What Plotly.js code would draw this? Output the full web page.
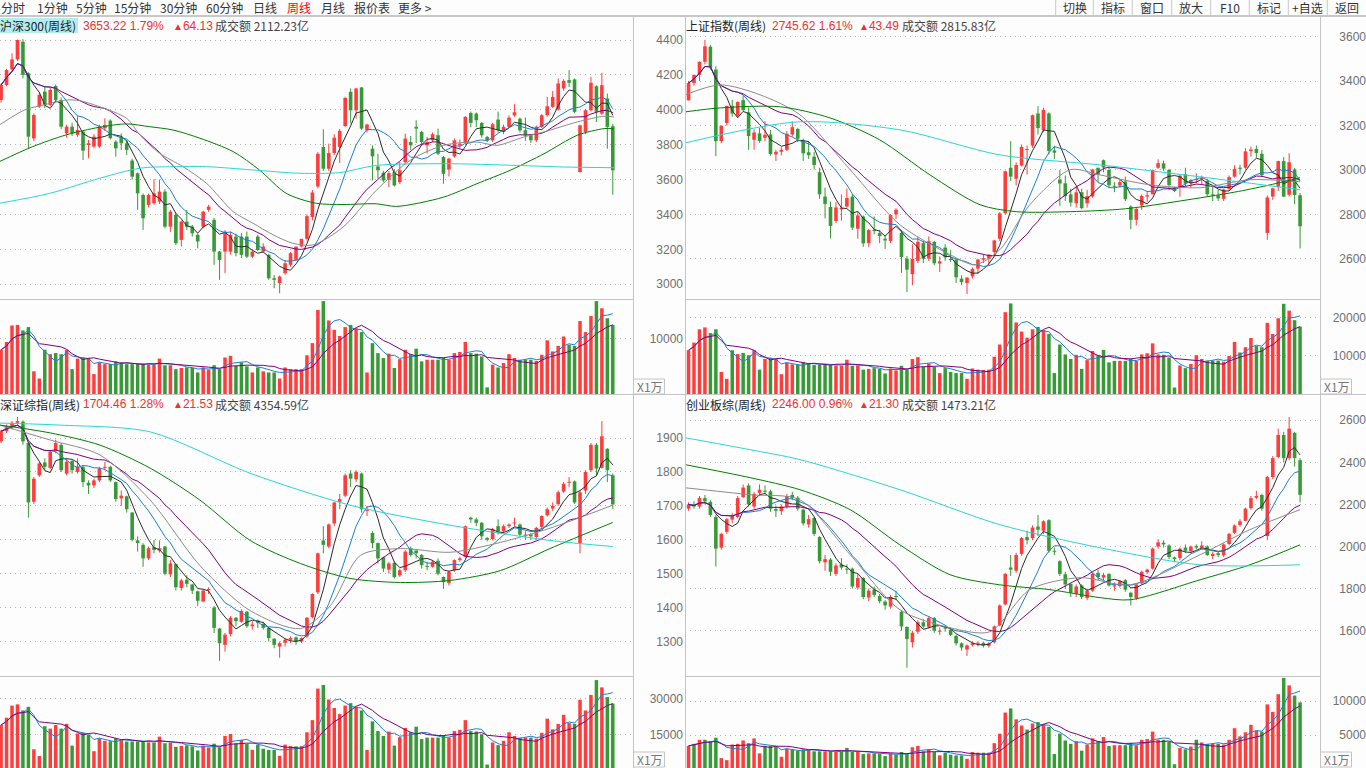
<!DOCTYPE html>
<html><head><meta charset="utf-8">
<script src="https://cdn.plot.ly/plotly-3.0.1.min.js"></script>
<style>html,body{margin:0;padding:0;background:#fdfdfd;overflow:hidden}#chart{width:1366px;height:768px}</style>
</head><body><div id="chart"></div>
<script>
// ---------------- DATA ----------------
const toolbarLeft = ['分时','1分钟','5分钟','15分钟','30分钟','60分钟','日线','周线','月线','报价表','更多 >'];
const toolbarRight = ['切换','指标','窗口','放大','F10','标记','+自选','返回'];
const hdrName = ['沪深300(周线)','上证指数(周线)','深证综指(周线)','创业板综(周线)'];
const hdrPrice = ['3653.22 1.79%','2745.62 1.61%','1704.46 1.28%','2246.00 0.96%'];
const hdrChange = ['64.13','43.49','21.53','21.30'];
const hdrAmount = ['成交额 2112.23亿','成交额 2815.83亿','成交额 4354.59亿','成交额 1473.21亿'];

// 沪深300 weekly
const hsOpen = [4056,4142,4232,4289,4390,4209,3836,4018,4104,4028,
 4136,4056,3865,3903,3856,3875,3798,3789,3789,3894,
 3938,3817,3846,3808,3709,3636,3512,3455,3464,3474,
 3531,3330,3397,3254,3359,3330,3283,3330,3426,3369,
 3187,3187,3187,3273,3273,3273,3158,3273,3187,3168,
 3034,3006,3063,3111,3140,3216,3260,3385,3560,3787,
 3662,3752,3787,3907,4103,3997,4128,3882,3777,3675,
 3639,3599,3643,3585,3700,3815,3902,3873,3796,3825,
 3854,3729,3657,3733,3796,3815,3982,3978,3925,3844,
 3825,3944,3873,3902,3968,3949,3883,3854,3825,3902,
 3969,4017,4001,4122,4170,4174,3643,3873,3997,4135,
 3978,4065,3906];
const hsHigh = [4150,4235,4324,4403,4405,4215,3980,4100,4130,4125,
 4145,4070,3915,3925,3965,3880,3827,3860,3915,3951,
 3945,3825,3865,3827,3720,3640,3520,3520,3602,3600,
 3545,3425,3410,3365,3426,3340,3290,3420,3455,3380,
 3190,3310,3300,3290,3292,3302,3200,3283,3235,3175,
 3053,3050,3139,3185,3215,3260,3400,3540,3757,3888,
 3806,3860,3890,4075,4122,4125,4130,3920,3796,3748,
 3650,3650,3660,3700,3863,3850,3940,3880,3845,3870,
 3892,3735,3725,3835,3830,3965,3990,3985,3930,3850,
 3925,3988,3915,3968,4032,3955,3955,3860,3910,3975,
 4074,4108,4180,4175,4227,4180,3915,4005,4189,4140,
 4212,4093,3920];
const hsLow = [4040,4135,4220,4280,4180,3779,3820,4010,4010,4020,
 4040,3890,3840,3850,3845,3712,3722,3780,3780,3880,
 3830,3731,3770,3741,3600,3426,3311,3440,3455,3460,
 3320,3300,3225,3216,3311,3273,3206,3320,3415,3111,
 3025,3063,3170,3160,3150,3150,3150,3190,3180,3025,
 2977,2948,3055,3100,3135,3210,3250,3365,3550,3650,
 3650,3740,3695,3900,3921,3950,3885,3870,3595,3605,
 3585,3557,3560,3575,3690,3770,3810,3800,3750,3815,
 3740,3576,3618,3725,3780,3810,3900,3900,3840,3815,
 3815,3870,3860,3895,3960,3870,3822,3810,3815,3895,
 3960,4010,3995,4110,4130,3980,3640,3860,3990,3930,
 3970,3777,3513];
const hsClose = [4142,4228,4289,4400,4200,3846,3970,4085,4028,4114,
 4056,3903,3903,3865,3884,3766,3808,3846,3903,3913,
 3837,3779,3808,3770,3617,3521,3378,3512,3521,3531,
 3330,3416,3235,3359,3330,3292,3245,3416,3445,3187,
 3139,3302,3283,3178,3168,3158,3187,3196,3216,3034,
 3025,3044,3120,3178,3216,3260,3390,3526,3748,3662,
 3752,3840,3879,4068,3997,4122,3892,3915,3733,3653,
 3595,3637,3566,3653,3835,3796,3892,3815,3815,3860,
 3748,3633,3720,3825,3806,3959,3925,3940,3854,3825,
 3917,3883,3902,3955,3986,3882,3854,3825,3902,3969,
 4020,4074,4151,4166,4155,3988,3911,3997,4155,3988,
 4141,3902,3653];
const hsVol = [8000,9400,12400,12500,11500,12100,4100,2800,8000,7200,
 7400,7200,8000,4500,6400,6600,6500,3600,5700,5400,
 5400,5900,5700,5400,5400,5400,5400,5300,5300,6400,
 5200,5200,4500,4700,4800,4700,3900,4800,4400,5200,
 4500,6600,6900,5100,5700,5000,3900,4800,4100,3900,
 3900,2800,4800,4500,4500,4500,7000,9200,15200,16800,
 13300,11600,10500,12100,12500,11900,11200,3900,9200,7400,
 6500,7300,4700,6300,8000,7200,8200,5900,6200,6200,
 6200,6600,6200,7400,7600,9400,7400,7300,6800,1200,
 5300,4800,5600,7200,6500,6200,6200,6200,6000,7100,
 9700,7700,8700,10400,8900,8700,13200,11200,14100,16800,
 15500,13700,12500];
const hsMA30x = [-0.3,4.3,7.7,11.9,14.4,18,23,25.4,29,33.3,37.6,42.5,46.1,49.8,53.4,57.1,62.6,68.7,74.9,81,87.1,90.8,95.7,99.4,105.5,110.4,112.2];
const hsMA30y = [3913,3999,4027,4056,4052,4018,3951,3856,3751,3674,3579,3416,3350,3283,3235,3225,3327,3538,3710,3796,3815,3796,3844,3873,3930,3963,3959];
const hsMA60x = [-0.3,5.8,11.9,18,23,27.2,31.5,36.4,42.5,47.3,52.2,57.7,62.6,68.7,72.4,81,87.1,93.2,99.4,105.5,110.4,112.2];
const hsMA60y = [3703,3789,3856,3900,3919,3903,3884,3837,3760,3655,3521,3464,3457,3461,3446,3499,3576,3653,3748,3854,3892,3892];
const hsMA120x = [-0.3,8.9,18,25.4,31.5,37.6,46.1,54.7,62,68.7,81,94.4,103,112.2];
const hsMA120y = [3464,3521,3607,3665,3674,3674,3655,3636,3640,3681,3691,3681,3672,3668];

// 上证指数 weekly
const shOpen = [3314,3392,3429,3488,3556,3453,3130,3212,3289,3245,
 3315,3260,3136,3165,3145,3160,3070,3082,3091,3160,
 3185,3130,3080,3060,2990,2880,2833,2770,2822,2835,
 2880,2735,2790,2670,2730,2715,2690,2680,2800,2716,
 2600,2530,2590,2670,2600,2675,2578,2650,2595,2595,
 2510,2490,2520,2555,2595,2600,2630,2690,2805,3010,
 2960,3020,3090,3110,3255,3180,3255,3088,2957,2940,
 2890,2850,2900,2850,2880,3010,3044,3000,2925,2930,
 2948,2835,2775,2840,2880,2890,3010,3030,3000,2920,
 2920,2980,2940,2955,2960,2950,2890,2885,2870,2915,
 2970,3010,3010,3085,3095,3073,2716,2880,2925,3040,
 2888,3002,2886];
const shHigh = [3402,3430,3490,3587,3564,3468,3201,3290,3316,3310,
 3336,3282,3183,3190,3220,3180,3091,3103,3176,3219,
 3190,3141,3130,3082,3010,2920,2857,2855,2890,2916,
 2891,2810,2795,2734,2790,2730,2705,2800,2827,2730,
 2612,2665,2700,2680,2700,2680,2610,2665,2640,2600,
 2525,2515,2560,2600,2620,2620,2685,2810,2997,3130,
 3034,3115,3110,3250,3288,3281,3260,3110,3000,2975,
 2915,2925,2915,2910,3005,3010,3047,3015,2945,2955,
 2970,2840,2830,2890,2905,3002,3048,3042,3005,2925,
 2980,3010,2960,2985,2975,2960,2925,2910,2915,2975,
 3021,3023,3098,3105,3110,3090,2885,2920,3042,3058,
 3075,3009,2896];
const shLow = [3314,3380,3402,3476,3452,3062,3120,3200,3240,3235,
 3265,3091,3091,3123,3130,3064,3041,3066,3085,3150,
 3125,3041,3050,3002,2870,2782,2691,2760,2771,2830,
 2729,2690,2653,2653,2710,2670,2644,2670,2780,2536,
 2449,2480,2580,2580,2590,2570,2540,2590,2585,2490,
 2480,2440,2510,2530,2580,2570,2610,2680,2800,2950,
 2930,3015,2980,3100,3160,3170,3070,3050,2838,2860,
 2835,2830,2822,2830,2875,2945,2990,2920,2900,2920,
 2860,2733,2750,2820,2855,2890,3005,2995,2910,2900,
 2880,2925,2920,2940,2935,2880,2860,2860,2860,2905,
 2965,2980,3005,3060,3055,2970,2685,2865,2905,2878,
 2880,2845,2646];
const shClose = [3392,3429,3488,3558,3462,3130,3199,3289,3255,3307,
 3270,3153,3169,3131,3159,3072,3082,3091,3163,3193,
 3141,3075,3067,3022,2890,2847,2747,2831,2829,2874,
 2740,2795,2669,2729,2725,2702,2682,2797,2821,2607,
 2550,2599,2676,2599,2679,2579,2588,2606,2594,2516,
 2494,2515,2554,2596,2602,2618,2682,2804,2994,2970,
 3022,3104,3091,3247,3189,3271,3086,3078,2939,2882,
 2853,2899,2828,2882,3002,2979,3011,2931,2924,2945,
 2868,2775,2824,2883,2886,3000,3031,3006,2932,2905,
 2974,2938,2955,2958,2964,2891,2885,2872,2912,2968,
 3005,3005,3084,3092,3076,2977,2876,2917,3040,2880,
 3035,2887,2746];
const shVol = [11500,13500,17000,17500,16000,17000,5800,4000,11500,10500,
 10800,10200,11500,6400,9200,9500,9200,5200,8200,7800,
 7700,8400,8000,7600,7700,7700,7600,7500,7400,9000,
 7400,7500,6400,6600,6800,6600,5400,6700,6200,7400,
 6400,9200,9700,7200,8000,7100,5500,6800,5800,5500,
 5500,4000,6700,6400,6300,6400,9800,13000,21500,23800,
 18800,16400,14800,17000,17600,16800,15800,5500,13000,10400,
 9200,10300,6600,8900,11300,10200,11600,8300,8700,8700,
 8700,9300,8700,10400,10700,13300,10400,10300,9600,1700,
 7500,6800,7900,10200,9200,8800,8800,8800,8500,10000,
 13700,10900,12300,14700,12600,12300,18700,15800,19900,23700,
 21900,19400,17700];
const shMA30x = [-0.6,5.8,13.1,20.4,29.6,38.7,47.9,52.5,57,62.5,69.9,75.3,84.5,93.7,102.8,112];
const shMA30y = [3339,3384,3339,3249,3001,2753,2618,2573,2640,2843,3001,2978,2933,2920,2956,2947];
const shMA60x = [-0.6,5.8,16.8,25.9,35,44.2,53.4,60,70,80,90,100,106,112];
const shMA60y = [3262,3280,3285,3235,3136,2978,2843,2812,2812,2825,2860,2900,2930,2965];
const shMA120x = [-0.6,20,38.7,57,75.3,93.7,112];
const shMA120y = [3122,3217,3181,3068,3023,2969,2911];

// 深证综指 weekly
const szOpen = [1890,1920,1935,1945,1948,1885,1712,1790,1828,1812,
 1862,1880,1795,1832,1800,1815,1768,1760,1775,1812,
 1815,1770,1722,1728,1680,1598,1585,1545,1578,1568,
 1580,1498,1528,1458,1482,1468,1448,1418,1452,1400,
 1338,1290,1322,1370,1358,1388,1345,1362,1352,1340,
 1308,1285,1296,1305,1312,1300,1315,1372,1445,1598,
 1580,1648,1712,1730,1795,1778,1795,1685,1620,1590,
 1548,1512,1532,1495,1510,1575,1568,1555,1522,1520,
 1538,1490,1472,1510,1540,1550,1665,1660,1650,1605,
 1602,1640,1625,1640,1648,1645,1612,1615,1608,1638,
 1672,1692,1705,1742,1768,1772,1590,1745,1805,1880,
 1812,1868,1790];
const szHigh = [1925,1940,1950,1962,1952,1888,1785,1830,1840,1865,
 1895,1885,1840,1835,1840,1818,1775,1780,1815,1830,
 1818,1772,1745,1730,1682,1610,1590,1580,1600,1598,
 1582,1540,1530,1485,1495,1470,1450,1455,1460,1405,
 1340,1325,1375,1372,1395,1390,1360,1365,1358,1342,
 1310,1300,1310,1315,1315,1312,1372,1442,1562,1640,
 1648,1712,1735,1795,1805,1805,1798,1700,1625,1592,
 1550,1535,1535,1515,1570,1580,1572,1558,1535,1540,
 1545,1492,1510,1542,1550,1642,1668,1665,1652,1608,
 1635,1660,1645,1648,1665,1648,1625,1620,1638,1672,
 1695,1710,1745,1770,1785,1775,1745,1805,1885,1885,
 1950,1870,1795];
const szLow = [1885,1915,1925,1940,1880,1665,1705,1785,1805,1808,
 1855,1800,1790,1795,1795,1755,1735,1752,1770,1805,
 1770,1712,1700,1680,1595,1565,1520,1540,1560,1562,
 1495,1490,1450,1450,1460,1440,1405,1415,1440,1325,
 1243,1270,1315,1345,1355,1340,1335,1340,1335,1300,
 1280,1252,1285,1295,1290,1295,1310,1368,1440,1560,
 1575,1640,1690,1725,1755,1770,1680,1670,1575,1530,
 1505,1500,1485,1490,1505,1550,1545,1515,1510,1518,
 1495,1455,1465,1505,1535,1548,1650,1640,1600,1595,
 1598,1615,1620,1635,1640,1610,1600,1600,1600,1632,
 1668,1685,1700,1738,1755,1705,1560,1735,1800,1790,
 1810,1770,1690];
const szClose = [1920,1935,1945,1950,1890,1710,1780,1825,1815,1860,
 1885,1805,1830,1805,1815,1770,1760,1775,1810,1815,
 1775,1720,1730,1690,1600,1590,1545,1575,1570,1575,
 1500,1530,1460,1480,1470,1450,1420,1450,1455,1340,
 1295,1320,1370,1360,1390,1345,1350,1355,1340,1310,
 1290,1295,1305,1310,1300,1310,1370,1440,1560,1585,
 1645,1710,1720,1790,1780,1800,1690,1685,1590,1545,
 1515,1530,1490,1510,1565,1555,1560,1525,1520,1535,
 1500,1475,1505,1540,1545,1640,1660,1650,1610,1600,
 1630,1625,1640,1645,1650,1615,1615,1610,1635,1670,
 1690,1700,1740,1765,1770,1710,1740,1800,1880,1810,
 1905,1805,1704];
const szVol = [19000,22000,27000,27500,25000,26500,9000,6200,18500,17500,
 19000,17500,19500,10500,15500,15800,15000,8200,13500,12500,
 12300,13500,12800,12200,12200,12200,12000,11800,11700,14200,
 11500,11600,10000,10400,10600,10200,8500,10500,9700,11300,
 9800,14500,15300,11500,12800,11200,8800,10800,9200,8700,
 8700,6300,10900,10300,10200,10300,16000,21000,34000,35500,
 29500,26000,23500,27000,28000,26500,25000,8700,20500,16500,
 14500,16300,10500,14000,17800,16000,18300,13200,13800,13800,
 13800,14800,13800,16500,17000,21000,16500,16300,15200,2700,
 11800,10700,12500,16000,14500,13800,13800,13800,13400,15800,
 21600,17200,19400,23200,19800,19400,29400,25000,31400,37500,
 34500,30500,27800];
const szMA30x = [-0.2,9,18.1,27.3,36.4,45.6,54.8,60.3,65.8,73.1,82.2,91.4,100.5,112];
const szMA30y = [1938,1894,1850,1717,1524,1391,1338,1406,1554,1574,1563,1592,1634,1702];
const szMA60x = [-0.2,9,18.1,27.3,36.4,45.6,54.8,63.9,73.1,82.2,91.4,100.5,112];
const szMA60y = [1938,1915,1879,1811,1717,1598,1530,1486,1474,1480,1509,1574,1651];
const szMA120x = [-0.2,10.8,27.3,45.6,63.9,82.2,100.5,112];
const szMA120y = [1944,1938,1918,1796,1702,1643,1598,1580];

// 创业板综 weekly
const cyOpen = [2180,2200,2190,2230,2212,2140,1995,2070,2128,2140,
 2235,2290,2190,2255,2265,2262,2178,2168,2190,2245,
 2232,2175,2105,2135,2045,1925,1938,1870,1915,1895,
 1895,1805,1850,1758,1795,1765,1738,1715,1765,1690,
 1618,1545,1595,1640,1618,1660,1595,1612,1605,1575,
 1540,1510,1532,1538,1542,1528,1545,1625,1725,1900,
 1885,1965,2045,2040,2095,2075,2125,1978,1930,1868,
 1822,1775,1815,1755,1790,1875,1852,1870,1810,1812,
 1840,1780,1755,1825,1878,1895,2000,2018,2005,1948,
 1945,1995,1978,2002,1995,2000,1955,1968,1958,2012,
 2065,2102,2122,2182,2232,2245,2050,2330,2425,2530,
 2420,2540,2410];
const cyHigh = [2210,2215,2240,2245,2220,2150,2065,2135,2160,2240,
 2295,2300,2260,2295,2290,2270,2195,2200,2250,2260,
 2240,2180,2150,2140,2050,1960,1945,1920,1945,1915,
 1900,1870,1855,1800,1810,1775,1745,1770,1790,1695,
 1620,1600,1650,1655,1670,1665,1615,1625,1615,1580,
 1545,1535,1550,1550,1548,1545,1625,1725,1875,1960,
 1970,2045,2075,2100,2150,2125,2130,1995,1935,1880,
 1825,1820,1820,1800,1875,1890,1875,1872,1830,1840,
 1845,1785,1825,1885,1895,1995,2035,2030,2010,1952,
 1995,2010,2005,2010,2025,2005,1975,1975,2015,2065,
 2105,2130,2185,2240,2265,2250,2335,2430,2560,2545,
 2615,2545,2420];
const cyLow = [2170,2180,2180,2200,2140,1905,1985,2060,2110,2135,
 2230,2190,2180,2240,2250,2165,2140,2150,2180,2220,
 2170,2100,2090,2050,1920,1885,1860,1860,1890,1870,
 1800,1795,1750,1740,1760,1730,1700,1705,1745,1600,
 1424,1520,1585,1610,1610,1590,1580,1595,1575,1530,
 1505,1480,1525,1525,1520,1520,1540,1620,1720,1860,
 1875,1955,2010,2030,2050,2060,1970,1960,1860,1800,
 1760,1760,1750,1745,1785,1840,1840,1810,1790,1805,
 1785,1720,1745,1820,1870,1890,1990,1995,1940,1925,
 1935,1970,1970,1985,1985,1955,1940,1950,1950,2005,
 2060,2095,2120,2175,2225,2170,2030,2320,2420,2400,
 2410,2380,2210];
const cyClose = [2200,2190,2230,2215,2150,1990,2060,2130,2145,2230,
 2280,2200,2250,2270,2260,2180,2170,2190,2240,2230,
 2180,2110,2130,2060,1930,1940,1880,1910,1900,1890,
 1810,1850,1760,1790,1770,1740,1720,1760,1760,1620,
 1560,1590,1640,1620,1660,1600,1600,1610,1580,1540,
 1520,1530,1540,1540,1530,1540,1620,1720,1870,1890,
 1960,2040,2030,2090,2080,2120,1980,1975,1870,1820,
 1780,1810,1760,1790,1870,1855,1865,1815,1815,1835,
 1795,1760,1820,1880,1890,1990,2020,2010,1950,1940,
 1990,1980,2000,1995,2005,1960,1965,1960,2010,2060,
 2100,2120,2180,2230,2240,2180,2330,2420,2530,2420,
 2560,2420,2246];
const cyVol = [3400,3700,4300,4300,4100,4600,1600,1300,3600,3700,
 4200,3800,4500,2300,3400,3400,3300,1800,3000,2800,
 2700,2900,2800,2600,2600,2600,2600,2500,2500,3100,
 2500,2500,2200,2300,2300,2200,1900,2300,2100,2500,
 2200,3200,3400,2600,2900,2500,2000,2400,2100,2000,
 2000,1500,2500,2400,2400,2400,3800,5200,8300,8900,
 7300,6400,5800,6700,6900,6600,6200,2200,5200,4200,
 3700,4100,2700,3600,4500,4100,4700,3400,3500,3500,
 3500,3800,3500,4300,4400,5500,4300,4300,4000,700,
 3100,2900,3300,4300,3900,3700,3700,3700,3600,4300,
 6000,4800,5400,6500,5600,5500,9500,8400,11000,13400,
 12300,10800,9800];
const cyMA30x = [-0.6,11.3,20.4,29.6,38.7,47.9,55.2,62.5,71.7,80.9,93.7,102.8,112];
const cyMA30y = [2279,2246,2222,1961,1700,1614,1595,1795,1852,1818,1961,2080,2175];
const cyMA60x = [-0.6,11.3,20.4,29.6,38.7,47.9,57,66.2,75.4,80.9,93.7,102.8,112];
const cyMA60y = [2389,2327,2270,2175,2008,1866,1818,1795,1757,1747,1842,1913,2008];
const cyMA120x = [-0.6,11.3,20.4,38.7,57,75.4,93.7,112];
const cyMA120y = [2517,2460,2413,2270,2104,1994,1913,1913];

const priceTicks = [[4400,4200,4000,3800,3600,3400,3200,3000],[3600,3400,3200,3000,2800,2600],[1900,1800,1700,1600,1500,1400,1300],[2600,2400,2200,2000,1800,1600]];
const volTicks = [[10000],[20000,10000],[30000,15000],[10000,5000]];

// ---------------- RENDER ----------------
const W=1366,H=768;
const px=x=>x/W, py=y=>1-y/H;
const RED='#ff3d3d', GREEN='#379a37';
const MA_COL={5:'#2b2b2b',10:'#1a7fd6',20:'#800080',30:'#8c8c8c',60:'#008000',120:'#2ad6d6'};
const GRID='#b4b4b4';
const FONT="'Liberation Sans', Arial, 'Noto Sans CJK SC', sans-serif";
const CJK="'Noto Sans CJK SC', 'Liberation Sans', sans-serif";

const panels=[
 {O:hsOpen,Hi:hsHigh,L:hsLow,C:hsClose,V:hsVol,m30:[hsMA30x,hsMA30y],m60:[hsMA60x,hsMA60y],m120:[hsMA120x,hsMA120y],
  x0:0,x1:633,axisX:683,xr:[-0.2,115.7],pT:17,pB:299,vT:300,vB:394,pr:[2915.2,4531.9],vr:[0,17000]},
 {O:shOpen,Hi:shHigh,L:shLow,C:shClose,V:shVol,m30:[shMA30x,shMA30y],m60:[shMA60x,shMA60y],m120:[shMA120x,shMA120y],
  x0:685,x1:1320,axisX:1366,xr:[-0.65,115.65],pT:17,pB:299,vT:300,vB:394,pr:[2418,3690],vr:[0,24700]},
 {O:szOpen,Hi:szHigh,L:szLow,C:szClose,V:szVol,m30:[szMA30x,szMA30y],m60:[szMA60x,szMA60y],m120:[szMA120x,szMA120y],
  x0:0,x1:633,axisX:683,xr:[-0.2,115.7],pT:395,pB:676,vT:677,vB:768,pr:[1198.2,2026.8],vr:[1278,38777]},
 {O:cyOpen,Hi:cyHigh,L:cyLow,C:cyClose,V:cyVol,m30:[cyMA30x,cyMA30y],m60:[cyMA60x,cyMA60y],m120:[cyMA120x,cyMA120y],
  x0:685,x1:1320,axisX:1366,xr:[-0.65,115.65],pT:395,pB:676,vT:677,vB:768,pr:[1384.7,2720],vr:[147,13529]}
];

function ma(arr,n){return arr.map((_,i)=>{const s=Math.max(0,i-n+1);let t=0;for(let j=s;j<=i;j++)t+=arr[j];return t/(i-s+1);});}

const traces=[];
const layout={width:W,height:H,margin:{l:0,r:0,t:0,b:0},paper_bgcolor:'#fdfdfd',plot_bgcolor:'rgba(0,0,0,0)',
 showlegend:false,hovermode:false,barmode:'overlay',font:{family:FONT,size:12,color:'#555'},shapes:[],annotations:[]};

function yAxis(p,dom,range,ticks){
 return {domain:dom,range:range,anchor:'free',position:Math.min(1,px(p.axisX)),side:'left',tickvals:ticks,
  ticktext:ticks.map(String),
  ticks:'',showline:false,zeroline:false,showgrid:true,gridcolor:GRID,griddash:'1px,4px',gridwidth:1,
  tickfont:{family:FONT,size:12,color:'#707070'},fixedrange:true,ticklabelstandoff:0};
}

panels.forEach((p,k)=>{
 const xn=k+1, yp=2*k+1, yv=2*k+2;
 const xr= xn===1?'x':'x'+xn, ypr= yp===1?'y':'y'+yp, yvr='y'+yv;
 const xk= xn===1?'xaxis':'xaxis'+xn, ypk= yp===1?'yaxis':'yaxis'+yp, yvk='yaxis'+yv;
 layout[xk]={domain:[px(p.x0),px(p.x1)],range:p.xr,visible:false,fixedrange:true,anchor:ypr};
 layout[ypk]=yAxis(p,[py(p.pB),py(p.pT)],p.pr,priceTicks[k]);
 layout[yvk]=yAxis(p,[py(p.vB),py(p.vT)],p.vr,volTicks[k]);
 const n=p.C.length, idx=p.C.map((_,i)=>i);
 const up=p.C.map((c,i)=>c>=p.O[i]);
 const cols=up.map(u=>u?RED:GREEN);
 [true,false].forEach(dir=>{
  const xs=[],ys=[];
  for(let i=0;i<n;i++){ if(up[i]===dir){xs.push(i,i,null);ys.push(p.L[i],p.Hi[i],null);} }
  traces.push({type:'scatter',mode:'lines',x:xs,y:ys,xaxis:xr,yaxis:ypr,line:{color:dir?RED:GREEN,width:1},hoverinfo:'skip'});
 });
 const minH=(p.pr[1]-p.pr[0])/(p.pB-p.pT);
 traces.push({type:'bar',x:idx,base:p.C.map((c,i)=>Math.min(c,p.O[i])),
  y:p.C.map((c,i)=>Math.max(Math.abs(c-p.O[i]),minH)),width:0.66,xaxis:xr,yaxis:ypr,
  marker:{color:cols,line:{width:0}},hoverinfo:'skip'});
 [5,10,20].forEach(m=>traces.push({type:'scatter',mode:'lines',x:idx,y:ma(p.C,m),xaxis:xr,yaxis:ypr,
   line:{color:MA_COL[m],width:1},hoverinfo:'skip'}));
 [[30,p.m30],[60,p.m60],[120,p.m120]].forEach(([m,d])=>traces.push({type:'scatter',mode:'lines',x:d[0],y:d[1],
   xaxis:xr,yaxis:ypr,line:{color:MA_COL[m],width:1,shape:'spline',smoothing:0.8},hoverinfo:'skip'}));
 traces.push({type:'bar',x:idx,y:p.V,width:0.64,xaxis:xr,yaxis:yvr,marker:{color:cols,line:{width:0}},hoverinfo:'skip'});
 traces.push({type:'scatter',mode:'lines',x:idx,y:ma(p.V,5),xaxis:xr,yaxis:yvr,line:{color:MA_COL[10],width:1},hoverinfo:'skip'});
 traces.push({type:'scatter',mode:'lines',x:idx,y:ma(p.V,10),xaxis:xr,yaxis:yvr,line:{color:MA_COL[20],width:1},hoverinfo:'skip'});
 layout.shapes.push({type:'line',xref:'paper',yref:'paper',x0:px(p.x0),x1:px(p.x1),y0:py(p.pB+0.5),y1:py(p.pB+0.5),line:{color:'#c4c4c4',width:1}});
 // X1万 box
 const bx=p.x1+0.5, by=(k<2)?379:752;
 layout.shapes.push({type:'rect',xref:'paper',yref:'paper',x0:px(bx),x1:px(bx+31),y0:py(by),y1:py(by+15),line:{color:'#c4c4c4',width:1},fillcolor:'rgba(0,0,0,0)'});
 layout.annotations.push({xref:'paper',yref:'paper',x:px(bx+1),y:py(by+7.5),xanchor:'left',yanchor:'middle',showarrow:false,
   text:'X1万',font:{family:CJK,size:12,color:'#777'}});
 // headers
 const hy=(k<2)?26:404;
 const hx=(p.x0===0)?[-2,81,171,213]:[684,770,857,900];
 if(k===0) layout.shapes.push({type:'rect',xref:'paper',yref:'paper',x0:0,x1:px(78),y0:py(33),y1:py(18),line:{width:0},fillcolor:'#b3eeee',layer:'below'});
 const parts=[[hdrName[k],'#222',CJK],[hdrPrice[k],'#ee3030',FONT],
   ['<span style="font-size:10px">▲</span>'+hdrChange[k],'#ee3030',FONT],[hdrAmount[k],'#444',CJK]];
 parts.forEach((h,j)=>{
  layout.annotations.push({xref:'paper',yref:'paper',x:px(hx[j]),y:py(hy),xanchor:'left',yanchor:'middle',showarrow:false,
   text:h[0],font:{family:h[2],size:12,color:h[1]}});
 });
});

const S=(x0,y0,x1,y1,c,w)=>layout.shapes.push({type:'line',xref:'paper',yref:'paper',x0:px(x0),x1:px(x1),y0:py(y0),y1:py(y1),line:{color:c||'#c4c4c4',width:w||1}});
S(0,16,W,16,'#c8c8c8',2);
S(633.5,17,633.5,H); S(685.5,17,685.5,H); S(1320.5,17,1320.5,H);
S(0,394.5,W,394.5);
const tlX=[0,36,75,113,159,205,252,286,320,353,397];
toolbarLeft.forEach((t,i)=>layout.annotations.push({xref:'paper',yref:'paper',x:px(tlX[i]-1),y:py(7.5),xanchor:'left',yanchor:'middle',
  showarrow:false,text:t,font:{family:CJK,size:12,color:t==='周线'?'#ff0000':'#333'}}));
const sep=[1055.7,1093.3,1132.3,1171.7,1210.7,1249.3,1288.3,1327.3];
sep.forEach(x=>S(x,0,x,15,'#c8c8c8',1));
toolbarRight.forEach((t,i)=>{const c=(i<sep.length-1)?(sep[i]+sep[i+1])/2:(sep[i]+W)/2;
 layout.annotations.push({xref:'paper',yref:'paper',x:px(c),y:py(7.5),xanchor:'center',yanchor:'middle',showarrow:false,
  text:t,font:{family:CJK,size:12,color:'#333'}});});

Plotly.newPlot('chart',traces,layout,{staticPlot:true,displayModeBar:false});
</script></body></html>
